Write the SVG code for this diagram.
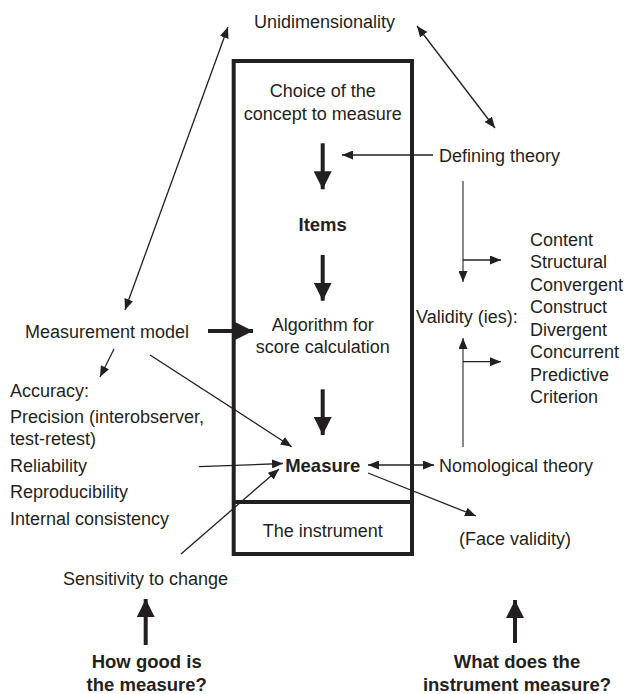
<svg xmlns="http://www.w3.org/2000/svg" width="627" height="694" viewBox="0 0 627 694">
<style>
text{font-family:"Liberation Sans",Arial,sans-serif;font-size:18px;fill:#231f20}
.b{font-weight:bold;font-size:18.5px}
.m{text-anchor:middle}
.thin{stroke:#231f20;stroke-width:1.3;fill:none}
.grey{stroke:#555;stroke-width:1.4;fill:none}
.thick{stroke:#231f20;stroke-width:4;fill:none}
</style>
<defs>
<marker id="a" viewBox="0 0 11 9" refX="11" refY="4.5" markerWidth="11" markerHeight="9" markerUnits="userSpaceOnUse" orient="auto-start-reverse"><path d="M0,0 L11,4.5 L0,9 z" fill="#231f20"/></marker>
<marker id="T" viewBox="0 0 18 18" refX="18" refY="9" markerWidth="18" markerHeight="18" markerUnits="userSpaceOnUse" orient="auto"><path d="M0,0 L18,9 L0,18 z" fill="#231f20"/></marker>
</defs>
<rect width="627" height="694" fill="#fff"/>
<g id="instrument-box">
<rect x="233.7" y="61" width="178.3" height="493" fill="none" stroke="#231f20" stroke-width="4"/>
<line x1="233.7" y1="502" x2="412" y2="502" stroke="#231f20" stroke-width="4"/>
</g>
<g id="unidimensionality"><text class="m" x="324.5" y="28">Unidimensionality</text></g>
<g id="choice"><text class="m" x="322.7" y="96.5">Choice of the</text><text class="m" x="322.7" y="120">concept to measure</text></g>
<g id="items"><text class="m b" x="322.7" y="230.5">Items</text></g>
<g id="algorithm"><text class="m" x="322.7" y="330.5">Algorithm for</text><text class="m" x="322.7" y="353">score calculation</text></g>
<g id="measure"><text class="m b" x="322.7" y="472">Measure</text></g>
<g id="the-instrument"><text class="m" x="322.7" y="536.5">The instrument</text></g>
<g id="defining-theory"><text x="439" y="161.5">Defining theory</text></g>
<g id="validity"><text x="416" y="323">Validity (ies):</text></g>
<g id="validity-types">
<text x="530" y="245.5">Content</text>
<text x="530" y="268">Structural</text>
<text x="530" y="290.5">Convergent</text>
<text x="530" y="313">Construct</text>
<text x="530" y="335.5">Divergent</text>
<text x="530" y="358">Concurrent</text>
<text x="530" y="380.5">Predictive</text>
<text x="530" y="403">Criterion</text>
</g>
<g id="nomological-theory"><text x="439" y="471.5">Nomological theory</text></g>
<g id="face-validity"><text x="459" y="544.5">(Face validity)</text></g>
<g id="measurement-model"><text x="25" y="338">Measurement model</text></g>
<g id="accuracy">
<text x="10" y="396.5">Accuracy:</text>
<text x="10" y="423">Precision (interobserver,</text>
<text x="10" y="444.5">test-retest)</text>
<text x="10" y="471.5">Reliability</text>
<text x="10" y="498">Reproducibility</text>
<text x="10" y="525">Internal consistency</text>
</g>
<g id="sensitivity"><text x="63" y="584.5">Sensitivity to change</text></g>
<g id="how-good"><text class="m b" x="146.7" y="668">How good is</text><text class="m b" x="146.7" y="691">the measure?</text></g>
<g id="what-does"><text class="m b" x="517" y="668">What does the</text><text class="m b" x="517" y="691">instrument measure?</text></g>
<g id="connectors">
<line class="thick" x1="322.7" y1="143.3" x2="322.7" y2="189.3" marker-end="url(#T)"/>
<line class="thick" x1="322.7" y1="255" x2="322.7" y2="300.7" marker-end="url(#T)"/>
<line class="thick" x1="322.7" y1="389.3" x2="322.7" y2="435" marker-end="url(#T)"/>
<line class="thick" x1="208" y1="331" x2="253" y2="331" marker-end="url(#T)"/>
<line class="thick" x1="145.7" y1="645" x2="145.7" y2="599" marker-end="url(#T)"/>
<line class="thick" x1="515" y1="643" x2="515" y2="600" marker-end="url(#T)"/>
<line class="thin" x1="228" y1="27" x2="125" y2="310" marker-start="url(#a)" marker-end="url(#a)"/>
<line class="thin" x1="417" y1="26" x2="495" y2="128" marker-start="url(#a)" marker-end="url(#a)"/>
<line class="thin" x1="433" y1="155" x2="342" y2="155" marker-end="url(#a)"/>
<line class="thin" x1="114" y1="349" x2="100" y2="377" marker-end="url(#a)"/>
<line class="thin" x1="150" y1="355" x2="291.7" y2="446.7" marker-end="url(#a)"/>
<line class="thin" x1="199" y1="466.7" x2="283" y2="463.5" marker-end="url(#a)"/>
<line class="thin" x1="181" y1="554" x2="279" y2="469" marker-end="url(#a)"/>
<line class="thin" x1="368" y1="465" x2="434" y2="465" marker-start="url(#a)" marker-end="url(#a)"/>
<line class="thin" x1="368" y1="473" x2="476" y2="516" marker-end="url(#a)"/>
<line class="grey" x1="463" y1="181" x2="463" y2="282" marker-end="url(#a)"/>
<line class="thin" x1="463" y1="260" x2="501" y2="260" marker-end="url(#a)"/>
<line class="grey" x1="463" y1="447" x2="463" y2="338" marker-end="url(#a)"/>
<line class="thin" x1="463" y1="361.7" x2="501" y2="361.7" marker-end="url(#a)"/>
</g>
</svg>
